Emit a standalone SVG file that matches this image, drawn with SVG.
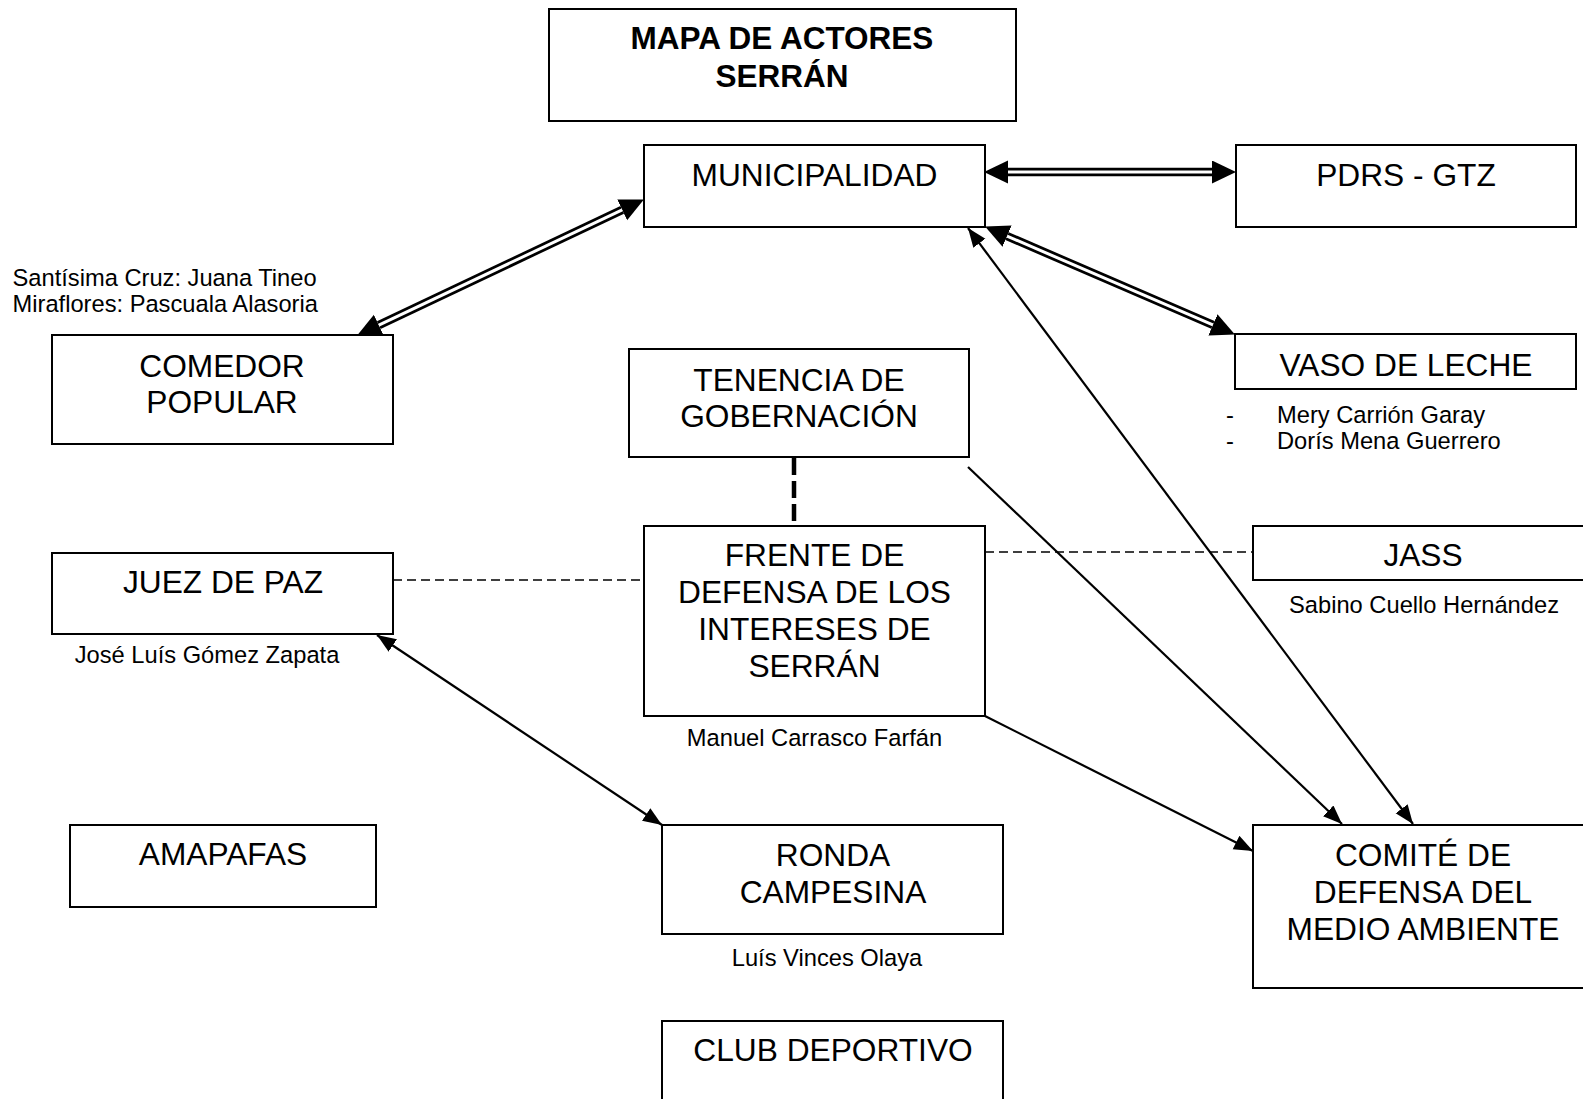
<svg xmlns="http://www.w3.org/2000/svg" width="1583" height="1099" viewBox="0 0 1583 1099">
<style>
  .box { fill: #ffffff; stroke: #000000; stroke-width: 2; }
  .lbl { font-family: "Liberation Sans", Arial, sans-serif; font-size: 31.7px; fill: #000000; text-anchor: middle; }
  .ttl { font-family: "Liberation Sans", Arial, sans-serif; font-size: 31.5px; font-weight: bold; fill: #000000; text-anchor: middle; }
  .sm { font-family: "Liberation Sans", Arial, sans-serif; font-size: 23.7px; fill: #000000; }
  .smc { text-anchor: middle; }
  .dbl-out { fill: none; stroke: #000000; stroke-width: 8.5; }
  .dbl-in { fill: none; stroke: #ffffff; stroke-width: 3; }
  .single { fill: none; stroke: #000000; stroke-width: 2.2; }
  .dash-thin { fill: none; stroke: #000000; stroke-width: 1.5; stroke-dasharray: 9 5; }
  .dash-thick { fill: none; stroke: #000000; stroke-width: 4.5; stroke-dasharray: 17 6; }
</style>
<defs>
  <marker id="ah" markerUnits="userSpaceOnUse" markerWidth="20" markerHeight="16" refX="19" refY="7.5" orient="auto-start-reverse">
    <path d="M0,0 L19,7.5 L0,15 z" fill="#000000"/>
  </marker>
  <marker id="dh" markerUnits="userSpaceOnUse" markerWidth="25" markerHeight="24" refX="0" refY="11.5" orient="auto-start-reverse">
    <path d="M0,0 L24,11.5 L0,23 z" fill="#000000"/>
  </marker>
</defs>
<rect width="1583" height="1099" fill="#ffffff"/>

<g id="connectors">
  <!-- Municipalidad <-> PDRS - GTZ -->
  <path class="dbl-out" d="M1008,172 L1212,172" marker-start="url(#dh)" marker-end="url(#dh)"/>
  <path class="dbl-in" d="M1008,172 L1212,172"/>
  <!-- Municipalidad <-> Comedor Popular -->
  <path class="dbl-out" d="M378.8,325.2 L622.2,209.8" marker-start="url(#dh)" marker-end="url(#dh)"/>
  <path class="dbl-in" d="M378.8,325.2 L622.2,209.8"/>
  <!-- Municipalidad <-> Vaso de Leche -->
  <path class="dbl-out" d="M1007.1,236.1 L1212.9,324.9" marker-start="url(#dh)" marker-end="url(#dh)"/>
  <path class="dbl-in" d="M1007.1,236.1 L1212.9,324.9"/>
  <!-- Municipalidad <-> Comite -->
  <path class="single" d="M968,228 L1413,824" marker-start="url(#ah)" marker-end="url(#ah)"/>
  <!-- Tenencia -> Comite -->
  <path class="single" d="M968,467 L1342,824" marker-end="url(#ah)"/>
  <!-- Frente -> Comite -->
  <path class="single" d="M985,716 L1253,851" marker-end="url(#ah)"/>
  <!-- Juez <-> Ronda -->
  <path class="single" d="M377,635 L662,825" marker-start="url(#ah)" marker-end="url(#ah)"/>
  <!-- Tenencia - Frente dashed -->
  <path class="dash-thick" d="M794,458 L794,526"/>
  <!-- Juez - Frente dashed -->
  <path class="dash-thin" d="M393,580 L644,580"/>
  <!-- Frente - JASS dashed -->
  <path class="dash-thin" d="M985,552 L1253,552"/>
</g>

<g id="title">
  <rect class="box" x="549" y="9" width="467" height="112"/>
  <text class="ttl" x="782" y="49">MAPA DE ACTORES</text>
  <text class="ttl" x="782" y="87">SERRÁN</text>
</g>

<g id="municipalidad">
  <rect class="box" x="644" y="145" width="341" height="82"/>
  <text class="lbl" x="814.5" y="186">MUNICIPALIDAD</text>
</g>

<g id="pdrs-gtz">
  <rect class="box" x="1236" y="145" width="340" height="82"/>
  <text class="lbl" x="1406" y="186">PDRS - GTZ</text>
</g>

<g id="comedor-popular">
  <rect class="box" x="52" y="335" width="341" height="109"/>
  <text class="lbl" x="222" y="377">COMEDOR</text>
  <text class="lbl" x="222" y="413">POPULAR</text>
  <text class="sm" x="12.5" y="286">Santísima Cruz: Juana Tineo</text>
  <text class="sm" x="12.5" y="312">Miraflores: Pascuala Alasoria</text>
</g>

<g id="tenencia">
  <rect class="box" x="629" y="349" width="340" height="108"/>
  <text class="lbl" x="799" y="391">TENENCIA DE</text>
  <text class="lbl" x="799" y="427">GOBERNACIÓN</text>
</g>

<g id="vaso-de-leche">
  <rect class="box" x="1235" y="334" width="341" height="55"/>
  <text class="lbl" x="1406" y="376">VASO DE LECHE</text>
  <text class="sm" x="1226" y="423">-</text>
  <text class="sm" x="1277" y="423">Mery Carrión Garay</text>
  <text class="sm" x="1226" y="449">-</text>
  <text class="sm" x="1277" y="449">Dorís Mena Guerrero</text>
</g>

<g id="juez-de-paz">
  <rect class="box" x="52" y="553" width="341" height="81"/>
  <text class="lbl" x="223" y="593">JUEZ DE PAZ</text>
  <text class="sm smc" x="207" y="663">José Luís Gómez Zapata</text>
</g>

<g id="frente-defensa">
  <rect class="box" x="644" y="526" width="341" height="190"/>
  <text class="lbl" x="814.5" y="566">FRENTE DE</text>
  <text class="lbl" x="814.5" y="603">DEFENSA DE LOS</text>
  <text class="lbl" x="814.5" y="640">INTERESES DE</text>
  <text class="lbl" x="814.5" y="677">SERRÁN</text>
  <text class="sm smc" x="814.5" y="746">Manuel Carrasco Farfán</text>
</g>

<g id="jass">
  <rect class="box" x="1253" y="526" width="341" height="54"/>
  <text class="lbl" x="1423" y="566">JASS</text>
  <text class="sm smc" x="1424" y="613">Sabino Cuello Hernández</text>
</g>

<g id="amapafas">
  <rect class="box" x="70" y="825" width="306" height="82"/>
  <text class="lbl" x="223" y="865">AMAPAFAS</text>
</g>

<g id="ronda-campesina">
  <rect class="box" x="662" y="825" width="341" height="109"/>
  <text class="lbl" x="833" y="866">RONDA</text>
  <text class="lbl" x="833" y="903">CAMPESINA</text>
  <text class="sm smc" x="827" y="966">Luís Vinces Olaya</text>
</g>

<g id="comite-medio-ambiente">
  <rect class="box" x="1253" y="825" width="341" height="163"/>
  <text class="lbl" x="1423" y="866">COMITÉ DE</text>
  <text class="lbl" x="1423" y="903">DEFENSA DEL</text>
  <text class="lbl" x="1423" y="940">MEDIO AMBIENTE</text>
</g>

<g id="club-deportivo">
  <rect class="box" x="662" y="1021" width="341" height="109"/>
  <text class="lbl" x="833" y="1061">CLUB DEPORTIVO</text>
</g>
</svg>
